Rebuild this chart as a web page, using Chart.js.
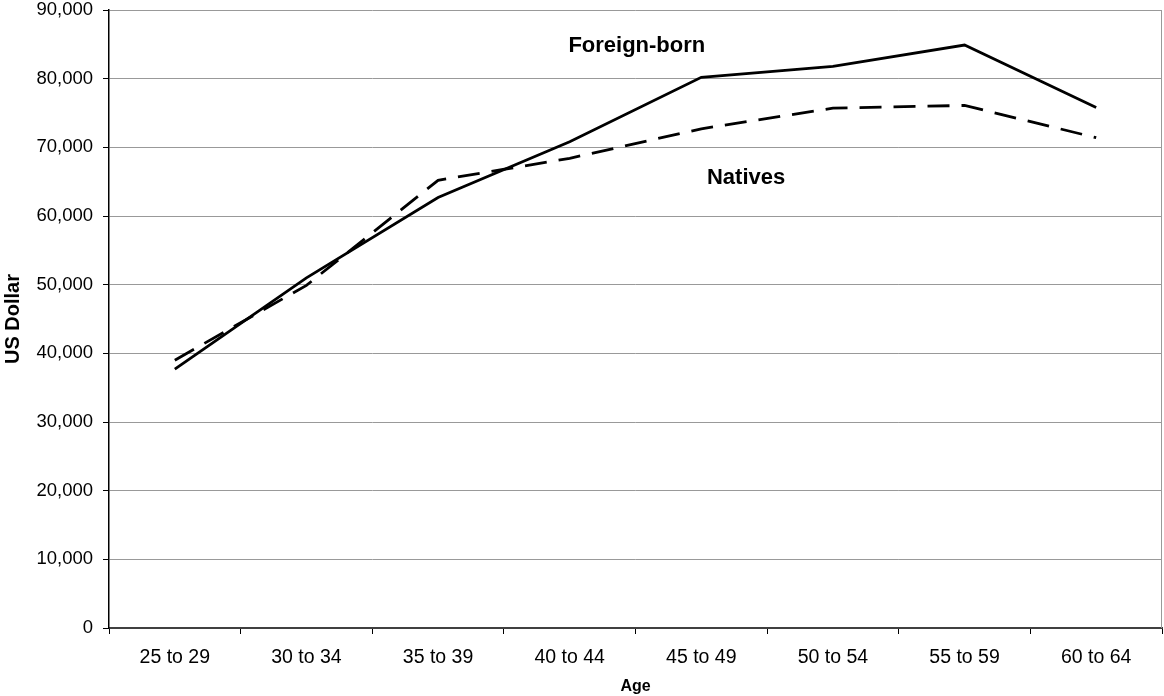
<!DOCTYPE html>
<html>
<head>
<meta charset="utf-8">
<script src="https://cdn.jsdelivr.net/npm/chart.js@4"></script>
<style>
  html, body { margin: 0; padding: 0; background: #fff; }
  #wrap { width: 1164px; height: 696px; }
</style>
</head>
<body>
<div id="wrap"><canvas id="c" width="1164" height="696"></canvas></div>
<script>
// Median earnings by age group, US dollars
const ageGroups = ['25 to 29', '30 to 34', '35 to 39', '40 to 44', '45 to 49', '50 to 54', '55 to 59', '60 to 64'];
const foreignBorn = [37700, 51000, 62700, 70800, 80200, 81800, 84900, 75800];
const natives = [39000, 49900, 65200, 68400, 72700, 75700, 76100, 71400];

// In-chart series captions: [text, category position, value]
const seriesCaptions = [
  ['Foreign-born', 3.51, 84700],
  ['Natives', 4.34, 65600]
];

const FONT = '"Liberation Sans", Arial, Helvetica, sans-serif';

const frameAndCaptions = {
  id: 'frameAndCaptions',
  beforeDatasetsDraw(chart) {
    const { ctx, chartArea: a } = chart;
    ctx.save();
    ctx.strokeStyle = '#999999';
    ctx.lineWidth = 1;
    ctx.beginPath();
    ctx.moveTo(a.right - 0.5, a.top);
    ctx.lineTo(a.right - 0.5, a.bottom);
    ctx.stroke();
    ctx.restore();
  },
  afterDatasetsDraw(chart) {
    const { ctx, scales } = chart;
    ctx.save();
    ctx.fillStyle = '#000';
    ctx.font = 'bold 22px ' + FONT;
    ctx.textAlign = 'center';
    ctx.textBaseline = 'middle';
    for (const [text, pos, val] of seriesCaptions) {
      ctx.fillText(text, scales.x.getPixelForValue(pos), scales.y.getPixelForValue(val));
    }
    ctx.restore();
  }
};

new Chart(document.getElementById('c'), {
  type: 'line',
  data: {
    labels: ageGroups,
    datasets: [
      {
        label: 'Foreign-born',
        data: foreignBorn,
        borderColor: '#000',
        borderWidth: 2.8,
        pointRadius: 0,
        tension: 0,
        borderJoinStyle: 'miter'
      },
      {
        label: 'Natives',
        data: natives,
        borderColor: '#000',
        borderWidth: 2.8,
        borderDash: [22, 12],
        pointRadius: 0,
        tension: 0
      }
    ]
  },
  options: {
    responsive: false,
    animation: false,
    devicePixelRatio: 1,
    layout: { padding: { top: 10, right: 2, left: 0, bottom: 0 } },
    plugins: {
      legend: { display: false },
      tooltip: { enabled: false }
    },
    scales: {
      x: {
        offset: true,
        grid: {
          offset: true,
          drawOnChartArea: false,
          tickLength: 6,
          tickColor: '#000',
          tickWidth: 1
        },
        border: { color: '#404040', width: 2 },
        ticks: {
          color: '#000',
          font: { family: FONT, size: 19.5 },
          padding: 12,
          maxRotation: 0
        },
        title: {
          display: true,
          text: 'Age',
          color: '#000',
          font: { family: FONT, size: 16, weight: 'bold' },
          padding: { top: 0, bottom: 0 }
        },
        afterFit(scale) {
          scale.height = 68;
          scale.paddingLeft = 0;
          scale.paddingRight = 0;
        }
      },
      y: {
        min: 0,
        max: 90000,
        ticks: {
          stepSize: 10000,
          color: '#000',
          font: { family: FONT, size: 18.5 },
          padding: 10,
          callback: v => v.toLocaleString('en-US')
        },
        grid: {
          color: '#999999',
          lineWidth: 1,
          tickLength: 6,
          tickColor: '#000'
        },
        border: { color: '#000', width: 1.5 },
        title: {
          display: true,
          text: 'US Dollar',
          color: '#000',
          font: { family: FONT, size: 20, weight: 'bold' },
          padding: { top: 1.5, bottom: 0 }
        },
        afterFit(scale) {
          scale.width = 109;
          scale.paddingTop = 0;
          scale.paddingBottom = 0;
        }
      }
    }
  },
  plugins: [frameAndCaptions]
});
</script>
</body>
</html>
